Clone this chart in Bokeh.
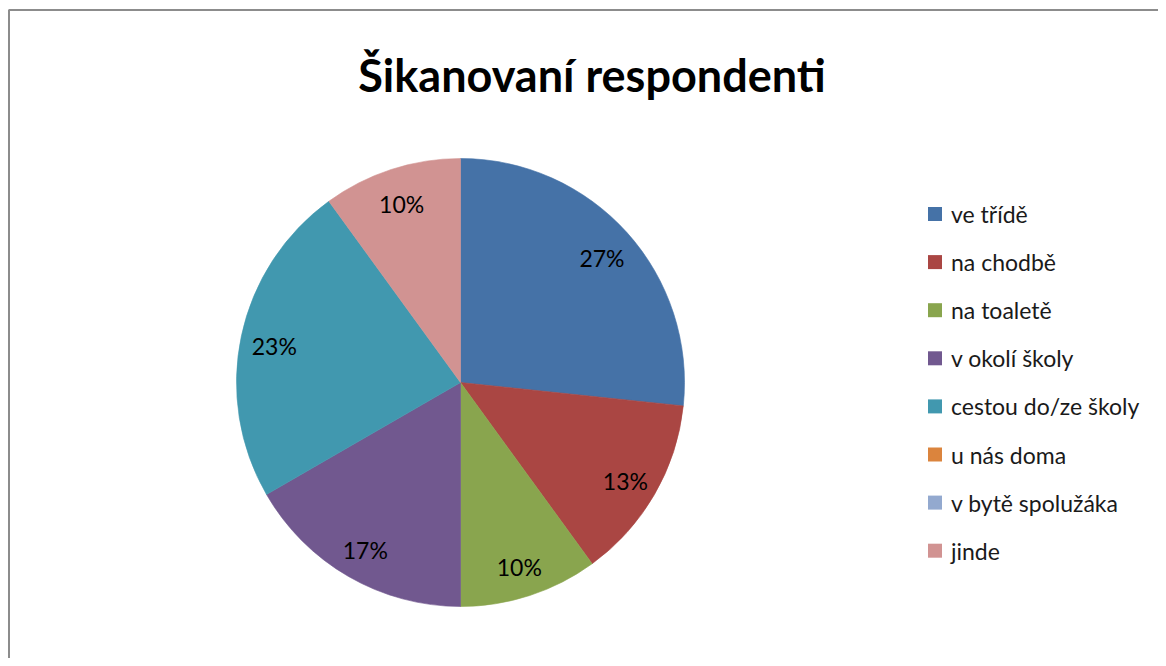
import math
from bokeh.plotting import figure
from bokeh.models import Range1d, ColumnDataSource
from bokeh.core.properties import value
from bokeh.embed import file_html
from bokeh.resources import INLINE

title_text = "Šikanovaní respondenti"
categories = ["ve třídě", "na chodbě", "na toaletě", "v okolí školy",
              "cestou do/ze školy", "u nás doma", "v bytě spolužáka", "jinde"]
counts = [8, 4, 3, 5, 7, 0, 0, 3]
colors = ["#4572A7", "#AA4643", "#89A54E", "#71588F",
          "#4198AF", "#DB843D", "#93A9CF", "#D19392"]

W, H = 1158, 658
CX, CY, R = 460, H - 382, 224
LABEL_FRAC = 0.85
LABEL_DY = -3
FONT = "Lato"

p = figure(width=W, height=H, output_backend="svg", toolbar_location=None,
           x_range=Range1d(0, W), y_range=Range1d(0, H),
           min_border=0, outline_line_color=None)
p.axis.visible = False
p.grid.visible = False
p.background_fill_color = "white"
p.border_fill_color = "white"

total = sum(counts)
starts, ends, lx, ly, labels, alphas = [], [], [], [], [], []
cum = 0
for c in counts:
    a0 = math.pi / 2 - 2 * math.pi * cum / total
    a1 = math.pi / 2 - 2 * math.pi * (cum + c) / total
    starts.append(a0)
    ends.append(a1)
    mid = (a0 + a1) / 2
    lx.append(CX + LABEL_FRAC * R * math.cos(mid))
    ly.append(CY + LABEL_FRAC * R * math.sin(mid) + LABEL_DY)
    labels.append(f"{round(100 * c / total)}%")
    alphas.append(1.0 if c > 0 else 0.0)
    cum += c

src = ColumnDataSource(dict(start=starts, end=ends, color=colors, lx=lx, ly=ly,
                            label=labels, alpha=alphas))
p.wedge(x=CX, y=CY, radius=R, start_angle="start", end_angle="end",
        direction="clock", fill_color="color", line_color="color",
        line_width=0.6, fill_alpha="alpha", line_alpha="alpha", source=src)

lab_src = ColumnDataSource(dict(lx=[v for v, c in zip(lx, counts) if c > 0],
                                ly=[v for v, c in zip(ly, counts) if c > 0],
                                label=[v for v, c in zip(labels, counts) if c > 0]))
p.text(x="lx", y="ly", text="label", source=lab_src, text_font=value(FONT),
       text_font_size="23px", text_color="black", text_align="center",
       text_baseline="middle")

# title
p.text(x=[591.5], y=[H - 74], text=[title_text], text_font=value(FONT),
       text_font_size="45px", text_font_style="bold", text_color="black",
       text_align="center", text_baseline="alphabetic")

# legend
LX, LY0, LDY = 934.5, H - 213.5, 48.1
leg_y = [LY0 - i * LDY for i in range(len(categories))]
leg_src = ColumnDataSource(dict(x=[LX] * len(categories), y=leg_y, color=colors,
                                tx=[LX + 16] * len(categories), label=categories))
p.scatter(x="x", y="y", marker="square", size=14, fill_color="color",
          line_color=None, source=leg_src)
p.text(x="tx", y="y", text="label", source=leg_src, text_font=value(FONT),
       text_font_size="23px", text_color="#1a1a1a", text_align="left",
       text_baseline="middle")

# chart-area border (left and top edges visible)
p.line(x=[8.5, 8.5, W], y=[0, H - 9.5, H - 9.5], line_color="#8c8c8c", line_width=2)

open("out.html", "w").write(file_html(p, INLINE))
